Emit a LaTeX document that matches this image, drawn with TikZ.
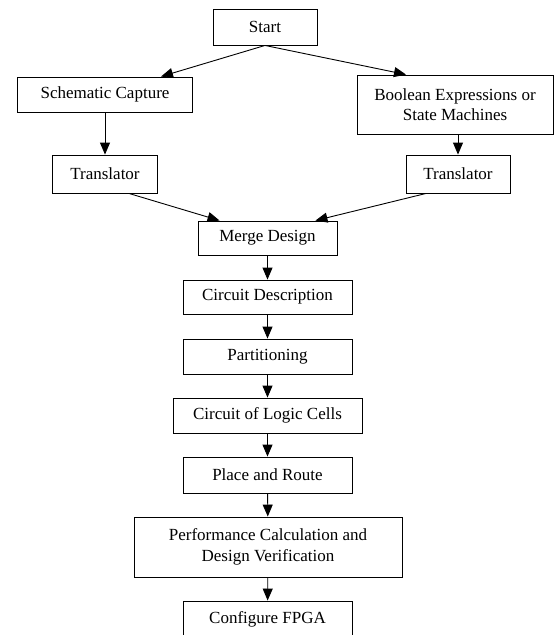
\documentclass[tikz,border=0pt]{standalone}
\usepackage{fontspec}
\setmainfont{Liberation Serif}
\usepackage{tikz}
\usetikzlibrary{arrows.meta, calc}

\begin{document}
\begin{tikzpicture}[x=1pt, y=-1pt, style={line cap = round},
		box/.style={draw, line width=0.9pt, fill=white, inner sep=0pt, align=center,
			font=\fontsize{17}{20.5}\selectfont},
		flow/.style={line width=0.9pt, -{Triangle[length=12pt, width=10pt]}}]
					\useasboundingbox (0,0) rectangle (554,635);
					% top row and the two entry paths
					\node[box, minimum width=104pt, minimum height=36pt] (start) at (265,27) {Start};
					\node[box, minimum width=175pt, minimum height=35pt] (sch) at (105,94.5) {Schematic Capture};
					\node[box, minimum width=196pt, minimum height=59pt] (bool) at (455,104.5) {Boolean Expressions or\\State Machines};
					\node[box, minimum width=105pt, minimum height=38pt] (trl) at (105,174) {Translator};
					\node[box, minimum width=104pt, minimum height=38pt] (trr) at (458,174) {Translator};
					% main chain
					\node[box, minimum width=139pt, minimum height=34pt] (merge) at (267.5,238) {Merge Design};
					\node[box, minimum width=169pt, minimum height=34pt] (cdesc) at (267.5,297) {Circuit Description};
					\node[box, minimum width=169pt, minimum height=35pt] (part) at (267.5,356.5) {Partitioning};
					\node[box, minimum width=189pt, minimum height=35pt] (cells) at (267.5,415.5) {Circuit of Logic Cells};
					\node[box, minimum width=169pt, minimum height=36pt] (route) at (267.5,475) {Place and Route};
					\node[box, minimum width=268pt, minimum height=60pt] (perf) at (268,547) {Performance Calculation and\\Design Verification};
					\node[box, minimum width=169pt, minimum height=37pt] (fpga) at (267.5,619.5) {Configure FPGA};
					% connectors
					\draw[flow] (start.south) -- ($(sch.north)+(56,0)$);
					\draw[flow] (start.south) -- ($(bool.north)+(-49,0)$);
					\draw[flow] (sch.south) -- (trl.north);
					\draw[flow] (trr.north |- bool.south) -- (trr.north);
					\draw[flow] ($(trl.south)+(24,0)$) -- (merge.160);
					\draw[flow] ($(trr.south)+(-32,0)$) -- (merge.20);
					\draw[flow] (merge) -- (cdesc);
					\draw[flow] (cdesc) -- (part);
					\draw[flow] (part) -- (cells);
					\draw[flow] (cells) -- (route);
					\draw[flow] (route) -- (perf);
					\draw[flow] (perf) -- (fpga);
\end{tikzpicture}
\end{document}
